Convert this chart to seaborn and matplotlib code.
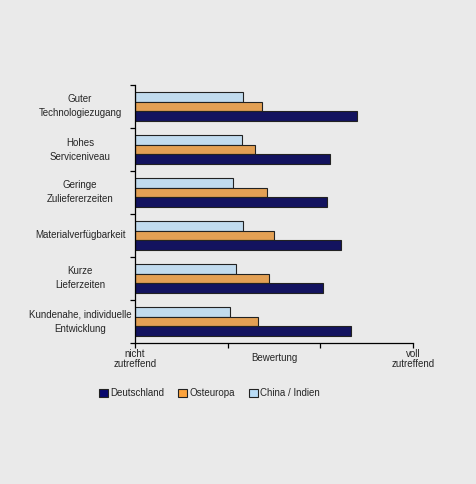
import pandas as pd
import matplotlib.pyplot as plt
import seaborn as sns
from matplotlib.patches import Patch
from matplotlib.transforms import blended_transform_factory

categories = [
    "Guter\nTechnologiezugang",
    "Hohes\nServiceniveau",
    "Geringe\nZuliefererzeiten",
    "Materialverfügbarkeit",
    "Kurze\nLieferzeiten",
    "Kundenahe, individuelle\nEntwicklung",
]
deutschland = [2.40, 2.10, 2.07, 2.22, 2.03, 2.33]
osteuropa = [1.37, 1.29, 1.42, 1.50, 1.45, 1.33]
china = [1.17, 1.15, 1.06, 1.17, 1.09, 1.02]

regions = ["China / Indien", "Osteuropa", "Deutschland"]
colors = {"Deutschland": "#06066c", "Osteuropa": "#fba23c", "China / Indien": "#b9dcf6"}
x_ticks = [0, 1, 2, 3]
x_labels = ["nicht\nzutreffend", "", "", "voll\nzutreffend"]

df = pd.DataFrame({
    "Kategorie": categories * 3,
    "Wert": china + osteuropa + deutschland,
    "Region": [r for r in regions for _ in categories],
})

bg = "#eaeaea"
sns.set_style("white")
plt.rcParams["font.family"] = ["Liberation Sans", "DejaVu Sans"]

fig = plt.figure(figsize=(4.77, 4.84), dpi=100, facecolor=bg)
ax = fig.add_axes([135 / 477, 1 - 343 / 484, 278 / 477, 258 / 484])
ax.set_facecolor(bg)

sns.barplot(
    data=df, y="Kategorie", x="Wert", hue="Region", hue_order=regions,
    palette=colors, orient="h", width=0.68, edgecolor="#222222",
    linewidth=0.8, legend=False, ax=ax,
)

ax.set_xlim(0, 3)
ax.set_ylim(5.5, -0.5)
ax.set_xticks(x_ticks, x_labels, fontsize=7, linespacing=1.0)
ax.set_yticks([i - 0.5 for i in range(len(categories) + 1)], [])
ax.tick_params(axis="both", direction="out", length=3.5, width=0.9, color="black",
               pad=1, left=True, bottom=True)
ax.set_xlabel("")
ax.set_ylabel("")
for s in ["top", "right"]:
    ax.spines[s].set_visible(False)
for s in ["left", "bottom"]:
    ax.spines[s].set_color("black")
    ax.spines[s].set_linewidth(0.9)

trans = blended_transform_factory(ax.transAxes, ax.transData)
for i, cat in enumerate(categories):
    ax.text((80 - 135) / 278, i, cat, transform=trans, ha="center", va="center",
            fontsize=7, linespacing=1.5)

ax.text(1.5, -0.06, "Bewertung", transform=blended_transform_factory(ax.transData, ax.transAxes),
        ha="center", va="center", fontsize=7)

handles = [Patch(facecolor=colors[r], edgecolor="#222222", linewidth=0.8, label=r)
           for r in ["Deutschland", "Osteuropa", "China / Indien"]]
fig.legend(handles=handles, loc="center left", bbox_to_anchor=(90 / 477, 1 - 393 / 484),
           ncol=3, frameon=False, fontsize=7, handlelength=0.9, handleheight=0.9,
           handletextpad=0.3, columnspacing=1.4)

fig.savefig("out.png", dpi=100, facecolor=bg)
